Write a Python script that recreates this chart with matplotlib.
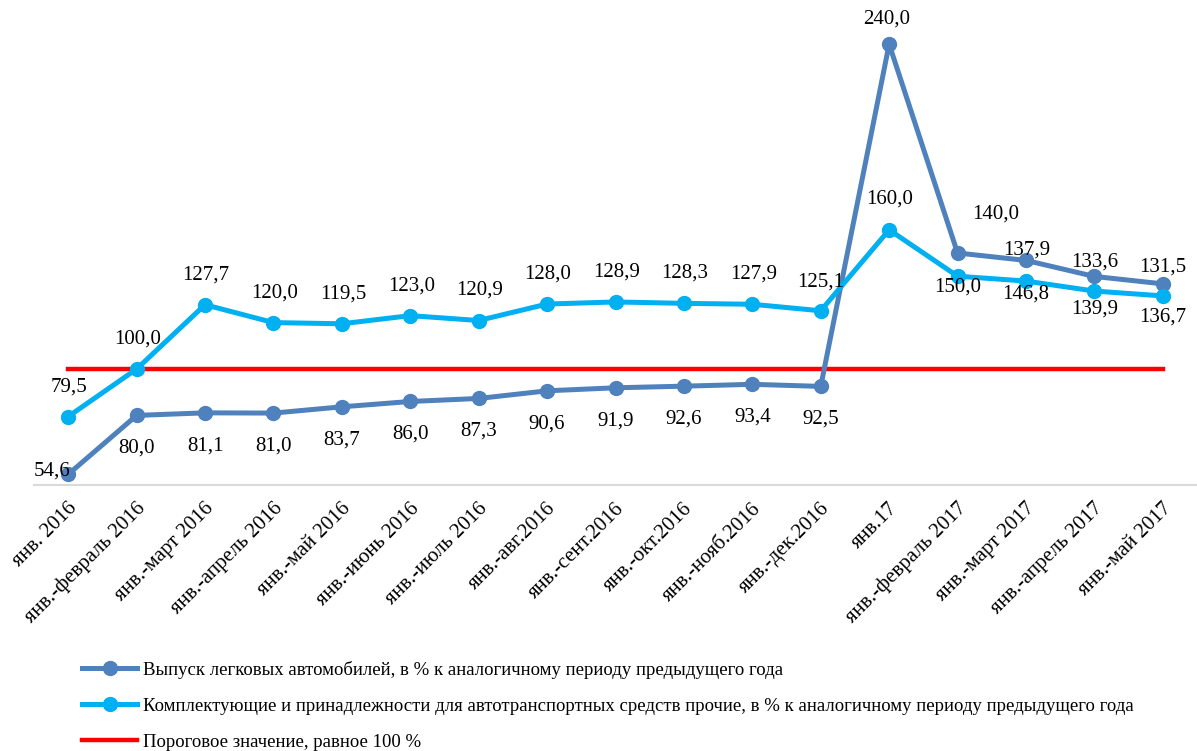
import matplotlib
matplotlib.use('Agg')
from matplotlib import pyplot as plt
from matplotlib.transforms import ScaledTranslation

plt.rcParams['font.family'] = ['Liberation Serif', 'DejaVu Serif']

# подписи по оси X
months = ['янв. 2016', 'янв.-февраль 2016', 'янв.-март 2016', 'янв.-апрель 2016',
          'янв.-май 2016', 'янв.-июнь 2016', 'янв.-июль 2016', 'янв.-авг.2016',
          'янв.-сент.2016', 'янв.-окт.2016', 'янв.-нояб.2016', 'янв.-дек.2016',
          'янв.17', 'янв.-февраль 2017', 'янв.-март 2017', 'янв.-апрель 2017',
          'янв.-май 2017']

# выпуск легковых автомобилей
cars = [54.6, 80.0, 81.1, 81.0, 83.7, 86.0, 87.3, 90.6, 91.9, 92.6, 93.4, 92.5,
        240.0, 150.0, 146.8, 139.9, 136.7]
cars_labels = ['54,6', '80,0', '81,1', '81,0', '83,7', '86,0', '87,3', '90,6', '91,9',
               '92,6', '93,4', '92,5', '240,0', '140,0', '137,9', '133,6', '131,5']

# комплектующие и принадлежности
parts = [79.5, 100.0, 127.7, 120.0, 119.5, 123.0, 120.9, 128.0, 128.9, 128.3, 127.9,
         125.1, 160.0, 140.0, 137.9, 133.6, 131.5]
parts_labels = ['79,5', '100,0', '127,7', '120,0', '119,5', '123,0', '120,9', '128,0',
                '128,9', '128,3', '127,9', '125,1', '160,0', '150,0', '146,8', '139,9',
                '136,7']

# пороговое значение
threshold = [100.0] * len(months)

# смещения подписей (в пикселях)
cars_off = [(-16, 3)] + [(0, -33)] * 11 + [(-3, 25), (38, 39), (1, 10), (0, 14), (0, 17)]
parts_off = [(1, 30)] * 11 + [(0, 29), (0, 31), (0, -11), (0, -13), (0, -18), (0, -21)]

c_dark = '#4F81BD'
c_light = '#00B0F0'

fig = plt.figure(figsize=(11.97, 7.51), dpi=100)
ax = fig.add_axes([34 / 1197, 1 - 485 / 751, 1 - 34 / 1197, 464 / 751])
x = list(range(len(months)))

ax.plot(x, cars, color=c_dark, lw=3.6, marker='o', ms=10,
        label='Выпуск легковых автомобилей, в % к аналогичному периоду предыдущего года', zorder=3)
ax.plot(x, parts, color=c_light, lw=3.6, marker='o', ms=10,
        label='Комплектующие и принадлежности для автотранспортных средств прочие, в % к аналогичному периоду предыдущего года', zorder=3)
ax.plot(x, threshold, color='#FF0000', lw=3.2,
        label='Пороговое значение, равное 100 %', zorder=2)

for i in x:
    ax.annotate(cars_labels[i], (i, cars[i]), xytext=cars_off[i], textcoords='offset pixels',
                ha='center', va='center', fontsize=15, zorder=4)
    ax.annotate(parts_labels[i], (i, parts[i]), xytext=parts_off[i], textcoords='offset pixels',
                ha='center', va='center', fontsize=15, zorder=4)

ax.set_xlim(-0.5, len(months) - 0.5)
ax.set_ylim(50, 250)
ax.set_yticks([])
ax.set_xticks(x)
ax.set_xticklabels(months, rotation=45, ha='right', va='center', rotation_mode='anchor', fontsize=15)
ax.tick_params(axis='x', length=0, pad=15)
shift = ScaledTranslation(6 / 100, 0, fig.dpi_scale_trans)
for lbl in ax.get_xticklabels():
    lbl.set_transform(lbl.get_transform() + shift)
for s in ['top', 'right', 'left']:
    ax.spines[s].set_visible(False)
ax.spines['bottom'].set_color('#D9D9D9')
ax.spines['bottom'].set_linewidth(1.5)

fig.legend(loc='upper left', bbox_to_anchor=(82 / 1197, 1 - 661 / 751), frameon=False,
           fontsize=13.5, handlelength=2.95, handletextpad=0.3, labelspacing=1.0,
           borderaxespad=0, borderpad=0)

fig.savefig('out.png', dpi=100)
